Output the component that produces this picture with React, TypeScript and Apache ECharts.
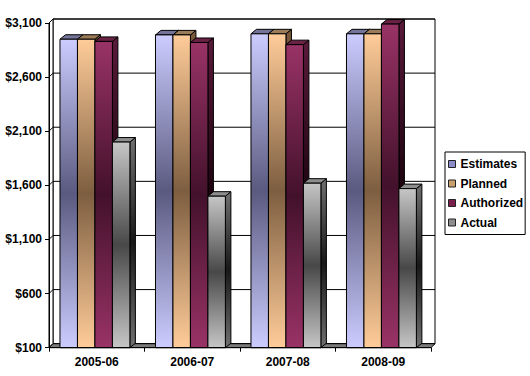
import React, { useEffect, useRef } from "react";
import * as echarts from "echarts";

const categories = ["2005-06", "2006-07", "2007-08", "2008-09"];
const seriesNames = ["Estimates", "Planned", "Authorized", "Actual"];
const estimates = [2950, 2990, 3000, 3000];
const planned = [2950, 2990, 3000, 3000];
const authorized = [2930, 2920, 2900, 3090];
const actual = [2000, 1500, 1620, 1570];
const yTicks = [100, 600, 1100, 1600, 2100, 2600, 3100];
const yMin = 100;
const yMax = 3100;
const yStep = 500;

const seriesValues = [estimates, planned, authorized, actual];

const palettes = [
  { light: "#ccccff", dark: "#5a5a80", top: "#74749a", sideL: "#5a5a7a", sideD: "#22223a", legend: "#8c8cc8" },
  { light: "#ffcc99", dark: "#7d5e40", top: "#9c7c58", sideL: "#7a5a3a", sideD: "#3a2410", legend: "#c8a070" },
  { light: "#993366", dark: "#43112b", top: "#6a2244", sideL: "#5a1a3a", sideD: "#1e0410", legend: "#7a1e4a" },
  { light: "#c6c6c6", dark: "#484848", top: "#8e8e8e", sideL: "#707070", sideD: "#181818", legend: "#8c8c8c" },
];

const FONT = "'Liberation Sans', Arial, sans-serif";
const DX = 5.5;
const DY = -4.5;
const WX = 4;
const WY = -4;

function grad(a: string, b: string) {
  return new echarts.graphic.LinearGradient(0, 0, 0, 1, [
    { offset: 0, color: a },
    { offset: 0.5, color: b },
    { offset: 1, color: a },
  ]);
}

export default function App() {
  const ref = useRef<HTMLDivElement>(null);
  useEffect(() => {
    if (!ref.current) return;
    const chart = echarts.init(ref.current, undefined, { renderer: "svg" });

    const frameSeries: any = {
      type: "custom",
      name: "frame",
      z: 1,
      silent: true,
      data: [[0, yMin]],
      renderItem: (params: any, api: any) => {
        const cs = params.coordSys;
        const L = cs.x, T = cs.y, R = cs.x + cs.width, B = cs.y + cs.height;
        const children: any[] = [];
        children.push({
          type: "rect",
          shape: { x: L + WX, y: T + WY, width: cs.width, height: cs.height },
          style: { fill: "#fff", stroke: "#000", lineWidth: 1 },
        });
        children.push({
          type: "polygon",
          shape: { points: [[L, T], [L + WX, T + WY], [L + WX, B + WY], [L, B]] },
          style: { fill: "#fff", stroke: "#000", lineWidth: 1 },
        });
        yTicks.forEach((t) => {
          const y = api.coord([0, t])[1];
          children.push({
            type: "line",
            shape: { x1: L + WX, y1: y + WY, x2: R + WX, y2: y + WY },
            style: { stroke: "#000", lineWidth: 1 },
          });
          children.push({
            type: "line",
            shape: { x1: L, y1: y, x2: L + WX, y2: y + WY },
            style: { stroke: "#000", lineWidth: 1 },
          });
        });
        children.push({
          type: "polygon",
          shape: { points: [[L, B], [L + WX, B + WY], [R + WX, B + WY], [R, B]] },
          style: { fill: "#7a7a7a", stroke: "#000", lineWidth: 1 },
        });
        return { type: "group", children };
      },
    };

    const barSeries = seriesNames.map((name, idx) => {
      const p = palettes[idx];
      return {
        type: "custom",
        name,
        z: 3 + idx,
        itemStyle: { color: p.legend },
        data: seriesValues[idx].map((v, i) => [i, v]),
        encode: { x: 0, y: 1 },
        renderItem: (params: any, api: any) => {
          const ci = api.value(0);
          const v = api.value(1);
          const band = api.size([1, 0])[0];
          const b = api.coord([ci, yMin]);
          const t = api.coord([ci, v]);
          const w = band * 0.183;
          const x0 = b[0] - band * 0.385 + idx * w;
          const x1 = x0 + w;
          const yT = t[1];
          const yB = b[1];
          return {
            type: "group",
            children: [
              {
                type: "polygon",
                shape: { points: [[x1, yT], [x1 + DX, yT + DY], [x1 + DX, yB + DY], [x1, yB]] },
                style: { fill: grad(p.sideL, p.sideD), stroke: "#000", lineWidth: 1 },
              },
              {
                type: "polygon",
                shape: { points: [[x0, yT], [x0 + DX, yT + DY], [x1 + DX, yT + DY], [x1, yT]] },
                style: { fill: p.top, stroke: "#000", lineWidth: 1 },
              },
              {
                type: "rect",
                shape: { x: x0, y: yT, width: w, height: yB - yT },
                style: { fill: grad(p.light, p.dark), stroke: "#000", lineWidth: 1 },
              },
            ],
          };
        },
      };
    });

    chart.setOption({
      animation: false,
      backgroundColor: "#fff",
      textStyle: { fontFamily: FONT },
      grid: { left: 49, right: 99, top: 23, bottom: 28.3, containLabel: false },
      legend: {
        data: seriesNames,
        orient: "vertical",
        left: 445,
        top: 152,
        padding: [5, 2, 5, 3],
        borderColor: "#000",
        borderWidth: 1,
        icon: "rect",
        itemWidth: 7,
        itemHeight: 7,
        itemGap: 5.5,
        itemStyle: { borderColor: "#222", borderWidth: 1 },
        textStyle: { fontFamily: FONT, fontWeight: "bold", fontSize: 12, color: "#000", lineHeight: 14 },
      },
      xAxis: {
        type: "category",
        data: categories,
        z: 10,
        axisLine: { lineStyle: { color: "#000", width: 1 } },
        axisTick: { show: true, length: 4, lineStyle: { color: "#000" } },
        axisLabel: { color: "#000", fontWeight: "bold", fontSize: 12, fontFamily: FONT, margin: 8 },
        splitLine: { show: false },
      },
      yAxis: {
        type: "value",
        min: yMin,
        max: yMax,
        interval: yStep,
        z: 10,
        axisLine: { show: true, lineStyle: { color: "#000", width: 1 } },
        axisTick: { show: true, length: 4, lineStyle: { color: "#000" } },
        axisLabel: {
          color: "#000",
          fontWeight: "bold",
          fontSize: 12,
          fontFamily: FONT,
          margin: 7,
          formatter: (v: number) => "$" + v.toLocaleString("en-US"),
        },
        splitLine: { show: false },
      },
      series: [frameSeries, ...barSeries],
    });
    return () => chart.dispose();
  }, []);
  return (
    <div
      ref={ref}
      style={{ position: "fixed", left: 0, top: 0, width: 530, height: 376, background: "#fff" }}
    />
  );
}
